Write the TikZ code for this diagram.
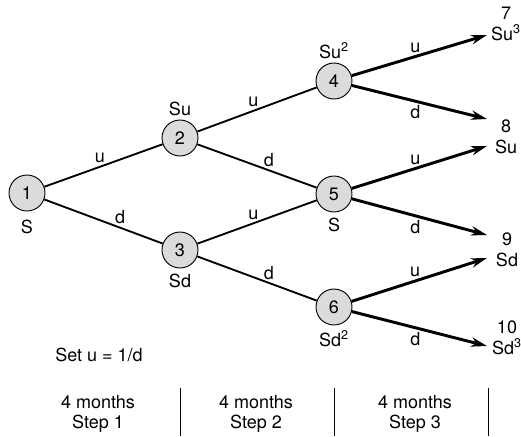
\documentclass[tikz,border=0pt]{standalone}
\usepackage{fontspec}
\setmainfont{TeX Gyre Heros}
\usetikzlibrary{arrows.meta}

\begin{document}
\begin{tikzpicture}[x=0.75pt, y=-0.75pt, font=\fontsize{13.5}{15.5}\selectfont,
    state/.style={circle, draw, line width=0.7pt, fill=black!14, minimum size=27pt, inner sep=0pt},
    branch/.style={line width=1.4pt},
    final/.style={line width=2.2pt, -{Stealth[length=12pt, width=7pt]}},
    tag/.style={above, inner sep=2pt},
    dtag/.style={below, inner sep=2pt}]

    \useasboundingbox (0,0) rectangle (521,436);

    % 1. The states of the tree
    \node[state, label={[label distance=3pt]below:S}] (n1) at (27,193) {1};
    \node[state, label={[label distance=-1pt]above:Su}] (n2) at (180,138) {2};
    \node[state, label={[label distance=1pt]below:Sd}] (n3) at (180,250) {3};
    \node[state, label={[label distance=-1pt]above:Su\textsuperscript{2}}] (n4) at (334,81) {4};
    \node[state, label={[label distance=0.5pt]below:S}] (n5) at (334,194) {5};
    \node[state, label={[label distance=0.5pt]below:Sd\textsuperscript{2}}] (n6) at (334,307) {6};

    % 2. The final states and where the arrows end
    \node[align=center] (t7) at (506,24) {7\\Su\textsuperscript{3}};
    \node[align=center] (t8) at (506,137) {8\\Su};
    \node[align=center] (t9) at (507,250) {9\\Sd};
    \node[align=center] (t10) at (507,338) {10\\Sd\textsuperscript{3}};
    \coordinate (e7) at (487,35);
    \coordinate (e8u) at (487,119);
    \coordinate (e8d) at (487,146);
    \coordinate (e9u) at (487,235);
    \coordinate (e9d) at (487,258);
    \coordinate (e10) at (487,346);

    % 3. Steps 1 and 2
    \draw[branch] (n1) -- node[pos=0.47, tag] {u} (n2);
    \draw[branch] (n1) -- node[pos=0.64, tag] {d} (n3);
    \draw[branch] (n2) -- node[pos=0.47, tag] {u} (n4);
    \draw[branch] (n2) -- node[pos=0.6, tag] {d} (n5);
    \draw[branch] (n3) -- node[pos=0.47, tag] {u} (n5);
    \draw[branch] (n3) -- node[pos=0.6, tag] {d} (n6);

    % 4. Step 3
    \draw[final] (n4) -- node[pos=0.47, tag] {u} (e7);
    \draw[final] (n4) -- node[pos=0.47, dtag] {d} (e8u);
    \draw[final] (n5) -- node[pos=0.47, tag] {u} (e8d);
    \draw[final] (n5) -- node[pos=0.47, dtag] {d} (e9u);
    \draw[final] (n6) -- node[pos=0.47, tag] {u} (e9d);
    \draw[final] (n6) -- node[pos=0.47, dtag] {d} (e10);

    % 5. The time line
    \node (rule) at (99,355) {Set u = 1/d};
    \node[align=center] (step1) at (98,414) {4 months\\Step 1};
    \node[align=center] (step2) at (256,414) {4 months\\Step 2};
    \node[align=center] (step3) at (415,414) {4 months\\Step 3};
    \draw[line width=0.6pt] (180,388) -- (180,436);
    \draw[line width=0.6pt] (334,388) -- (334,436);
    \draw[line width=0.6pt] (488,388) -- (488,436);

\end{tikzpicture}
\end{document}
